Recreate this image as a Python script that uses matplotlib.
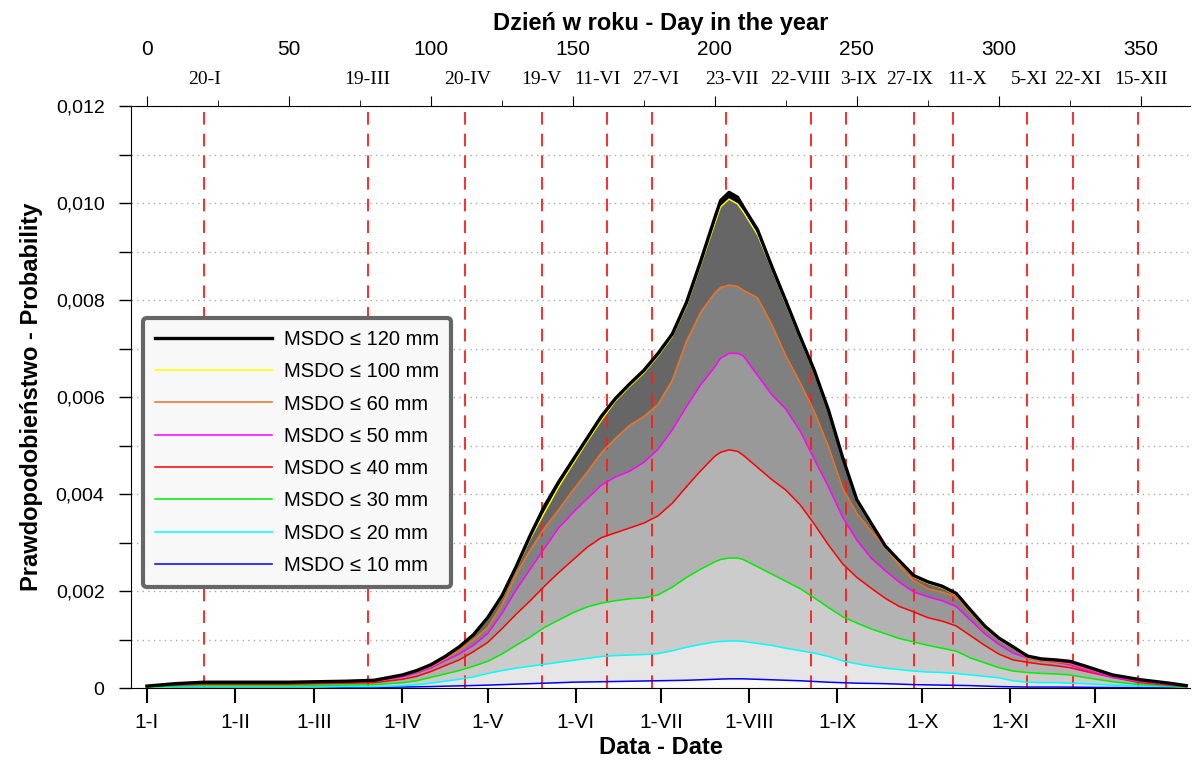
import numpy as np
import matplotlib
matplotlib.use("Agg")
import matplotlib.pyplot as plt
from matplotlib.ticker import FixedLocator, FuncFormatter, MultipleLocator

plt.rcParams['font.family'] = ['Liberation Sans', 'DejaVu Sans']

# day of year (x) and probability values, in units of 0.001
days = [0, 10, 20, 30, 40, 50, 60, 70, 80, 90, 95, 100, 105, 110, 115, 120, 125, 130,
        135, 140, 145, 150, 155, 160, 165, 170, 175, 180, 185, 190, 195, 200, 202, 205, 208,
        210, 215, 220, 225, 230, 235, 240, 245, 250, 255, 260, 265, 270, 275, 280, 285, 290,
        295, 300, 305, 310, 315, 320, 325, 330, 340, 350, 360, 366]

msdo_120 = [0.04, 0.09, 0.12, 0.12, 0.12, 0.12, 0.13, 0.14, 0.16, 0.27, 0.36, 0.48, 0.65, 0.85,
            1.10, 1.45, 1.90, 2.50, 3.15, 3.75, 4.25, 4.70, 5.15, 5.60, 5.97, 6.27, 6.55, 6.90,
            7.30, 7.95, 8.80, 9.70, 10.05, 10.22, 10.12, 9.92, 9.45, 8.70, 7.98, 7.25, 6.55, 5.73,
            4.75, 3.88, 3.40, 2.93, 2.62, 2.32, 2.19, 2.10, 1.95, 1.61, 1.28, 1.03, 0.85, 0.66,
            0.60, 0.58, 0.55, 0.46, 0.27, 0.17, 0.10, 0.05]
msdo_100 = [0.04, 0.09, 0.12, 0.12, 0.12, 0.12, 0.13, 0.14, 0.16, 0.26, 0.35, 0.47, 0.63, 0.83,
            1.08, 1.42, 1.86, 2.45, 3.08, 3.62, 4.15, 4.62, 5.08, 5.52, 5.92, 6.22, 6.50, 6.85,
            7.25, 7.88, 8.72, 9.58, 9.92, 10.08, 9.98, 9.82, 9.35, 8.65, 7.92, 7.20, 6.50, 5.68,
            4.70, 3.84, 3.36, 2.90, 2.58, 2.29, 2.16, 2.07, 1.92, 1.58, 1.25, 1.00, 0.83, 0.64,
            0.59, 0.57, 0.54, 0.45, 0.26, 0.16, 0.09, 0.05]
msdo_60 = [0.04, 0.08, 0.11, 0.11, 0.11, 0.11, 0.12, 0.13, 0.15, 0.25, 0.33, 0.44, 0.60, 0.78,
           1.00, 1.25, 1.72, 2.35, 2.85, 3.30, 3.68, 4.08, 4.45, 4.85, 5.15, 5.42, 5.60, 5.85,
           6.35, 7.15, 7.75, 8.15, 8.26, 8.31, 8.28, 8.20, 8.05, 7.50, 6.85, 6.30, 5.70, 4.98,
           4.12, 3.60, 3.24, 2.90, 2.52, 2.22, 2.05, 1.98, 1.88, 1.55, 1.23, 1.00, 0.82, 0.62,
           0.56, 0.54, 0.51, 0.42, 0.25, 0.15, 0.09, 0.04]
msdo_50 = [0.04, 0.07, 0.10, 0.10, 0.10, 0.10, 0.11, 0.12, 0.14, 0.23, 0.31, 0.41, 0.56, 0.70,
           0.88, 1.12, 1.53, 2.02, 2.45, 2.88, 3.30, 3.61, 3.90, 4.18, 4.35, 4.47, 4.65, 4.92,
           5.32, 5.80, 6.25, 6.62, 6.80, 6.90, 6.90, 6.85, 6.45, 6.05, 5.75, 5.30, 4.72, 4.15,
           3.52, 3.05, 2.68, 2.42, 2.18, 1.98, 1.88, 1.80, 1.68, 1.40, 1.12, 0.90, 0.72, 0.62,
           0.56, 0.53, 0.48, 0.38, 0.22, 0.13, 0.07, 0.04]
msdo_40 = [0.03, 0.06, 0.08, 0.08, 0.08, 0.08, 0.09, 0.10, 0.11, 0.18, 0.24, 0.34, 0.46, 0.58,
           0.75, 0.94, 1.22, 1.52, 1.80, 2.10, 2.38, 2.64, 2.90, 3.10, 3.20, 3.30, 3.40, 3.55,
           3.81, 4.15, 4.48, 4.78, 4.86, 4.91, 4.88, 4.80, 4.55, 4.30, 4.08, 3.78, 3.38, 2.95,
           2.56, 2.28, 2.06, 1.85, 1.68, 1.57, 1.45, 1.38, 1.28, 1.08, 0.88, 0.70, 0.58, 0.53,
           0.49, 0.46, 0.42, 0.35, 0.22, 0.11, 0.06, 0.03]
msdo_30 = [0.02, 0.04, 0.05, 0.05, 0.05, 0.05, 0.05, 0.06, 0.07, 0.11, 0.15, 0.22, 0.29, 0.36,
           0.45, 0.55, 0.70, 0.88, 1.05, 1.25, 1.40, 1.55, 1.67, 1.75, 1.80, 1.84, 1.86, 1.92,
           2.08, 2.28, 2.45, 2.60, 2.65, 2.68, 2.68, 2.65, 2.50, 2.35, 2.20, 2.05, 1.86, 1.66,
           1.47, 1.34, 1.22, 1.12, 1.02, 0.95, 0.88, 0.82, 0.76, 0.62, 0.52, 0.42, 0.35, 0.32,
           0.30, 0.29, 0.27, 0.22, 0.13, 0.07, 0.04, 0.02]
msdo_20 = [0.01, 0.02, 0.02, 0.02, 0.02, 0.02, 0.02, 0.03, 0.03, 0.05, 0.07, 0.10, 0.14, 0.18,
           0.23, 0.30, 0.36, 0.41, 0.45, 0.49, 0.53, 0.57, 0.61, 0.65, 0.67, 0.68, 0.69, 0.71,
           0.77, 0.84, 0.90, 0.95, 0.96, 0.97, 0.97, 0.96, 0.92, 0.88, 0.82, 0.77, 0.72, 0.65,
           0.56, 0.50, 0.45, 0.41, 0.38, 0.35, 0.33, 0.32, 0.30, 0.27, 0.24, 0.21, 0.15, 0.12,
           0.11, 0.11, 0.10, 0.09, 0.06, 0.04, 0.03, 0.02]
msdo_10 = [0.005, 0.005, 0.008, 0.008, 0.008, 0.008, 0.009, 0.01, 0.01, 0.02, 0.025, 0.03, 0.038,
           0.045, 0.052, 0.06, 0.07, 0.08, 0.09, 0.10, 0.11, 0.12, 0.125, 0.13, 0.135, 0.14,
           0.145, 0.15, 0.155, 0.16, 0.17, 0.18, 0.185, 0.19, 0.19, 0.19, 0.18, 0.17, 0.16, 0.15,
           0.135, 0.12, 0.11, 0.10, 0.095, 0.09, 0.08, 0.07, 0.065, 0.06, 0.055, 0.05, 0.04, 0.03,
           0.025, 0.02, 0.02, 0.02, 0.018, 0.015, 0.01, 0.01, 0.005, 0.005]

series_labels = ['MSDO ≤ 10 mm', 'MSDO ≤ 20 mm', 'MSDO ≤ 30 mm', 'MSDO ≤ 40 mm',
                 'MSDO ≤ 50 mm', 'MSDO ≤ 60 mm', 'MSDO ≤ 100 mm', 'MSDO ≤ 120 mm']
line_colors = ['#0000ff', '#00ffff', '#00ee00', '#ff0000', '#ff00ff', '#f07020', '#ffff00', '#000000']
fill_colors = ['#fafafa', '#e6e6e6', '#cccccc', '#b3b3b3', '#999999', '#808080', '#666666', '#000000']

# marked dates (red dashed lines) and where their labels sit on the day scale
mark_days = [20, 78, 112, 139, 162, 178, 204, 234, 246, 270, 284, 310, 326, 349]
mark_label_days = [20.4, 77.5, 113, 139, 158.5, 179, 206, 230, 250.7, 268.7, 288.7, 310.6,
                   327.8, 350]
mark_labels = ['20-I', '19-III', '20-IV', '19-V', '11-VI', '27-VI', '23-VII', '22-VIII',
               '3-IX', '27-IX', '11-X', '5-XI', '22-XI', '15-XII']

month_days = [0, 31, 59, 90, 120, 151, 181, 212, 243, 273, 304, 334]
month_labels = ['1-I', '1-II', '1-III', '1-IV', '1-V', '1-VI', '1-VII', '1-VIII',
                '1-IX', '1-X', '1-XI', '1-XII']

top_ticks = [0, 50, 100, 150, 200, 250, 300, 350]

x = np.array(days)
curves = [np.array(s) / 1000 for s in
          [msdo_10, msdo_20, msdo_30, msdo_40, msdo_50, msdo_60, msdo_100, msdo_120]]

fig = plt.figure(figsize=(11.92, 7.6), dpi=100)
ax = fig.add_axes([0.1099, 0.0947, 0.8884, 0.7658])
xlim = (-5.6, 367.3)

lower = np.zeros_like(x, dtype=float)
for c, fc in zip(curves, fill_colors):
    ax.fill_between(x, lower, c, color=fc, lw=0, zorder=1)
    lower = c

for d in mark_days:
    z = 0.8 if d == 204 else 3
    ax.axvline(d, color='#ff1a1a', lw=1.3, linestyle=(0, (7, 5)), zorder=z)

handles = []
for c, col, lab in zip(curves, line_colors, series_labels):
    lw = 2.4 if col == '#000000' else 1.1
    h, = ax.plot(x, c, color=col, lw=lw, zorder=4, label=lab, solid_joinstyle='round')
    handles.append(h)

ax.set_xlim(xlim)
ax.set_ylim(0, 0.012)
ax.yaxis.set_major_locator(MultipleLocator(0.002))
ax.yaxis.set_minor_locator(MultipleLocator(0.001))
ax.yaxis.set_major_formatter(FuncFormatter(
    lambda v, p: '0' if abs(v) < 1e-9 else f'{v:.3f}'.replace('.', ',')))
ax.grid(axis='y', which='both', linestyle=(0, (1, 3)), color='#aaaaaa', lw=1)
ax.set_axisbelow(True)

ax.set_xticks(month_days)
ax.set_xticklabels(month_labels)
ax.tick_params(axis='x', direction='out', length=11, width=1.5, pad=7, labelsize=15)
ax.tick_params(axis='y', which='both', direction='out', length=9, width=1, pad=10, labelsize=14)
ax.spines['right'].set_visible(False)
ax.spines['top'].set_visible(False)
ax.set_xlabel('Data - Date', fontsize=17, fontweight='bold', labelpad=3)
ax.set_ylabel('Prawdopodobieństwo - Probability', fontsize=17, fontweight='bold', labelpad=9)

for d, lab in zip(mark_label_days, mark_labels):
    ax.text(d, 1.045, lab, transform=ax.get_xaxis_transform(), ha='center', va='center',
            fontsize=14, family='Liberation Serif')

ax2 = ax.twiny()
ax2.set_xlim(xlim)
ax2.set_xticks(top_ticks)
ax2.xaxis.set_minor_locator(FixedLocator([25, 75, 125, 175, 225, 275, 325]))
ax2.tick_params(axis='x', which='major', direction='out', length=7, pad=27, labelsize=15)
ax2.tick_params(axis='x', which='minor', direction='out', length=4)
for s in ['left', 'right', 'bottom']:
    ax2.spines[s].set_visible(False)
ax2.set_xlabel('Dzień w roku - Day in the year', fontsize=17, fontweight='bold', labelpad=7)

leg = ax.legend(handles[::-1], series_labels[::-1], loc='upper left',
                bbox_to_anchor=(0.011, 0.636), borderaxespad=0, fontsize=14.5,
                handlelength=5.8, labelspacing=0.66, handletextpad=0.6,
                fancybox=True, framealpha=1, borderpad=0.6)
frame = leg.get_frame()
frame.set_edgecolor('#666666')
frame.set_facecolor('#f8f8f8')
frame.set_linewidth(3)
leg.set_zorder(10)

fig.savefig('out.png', dpi=100)
